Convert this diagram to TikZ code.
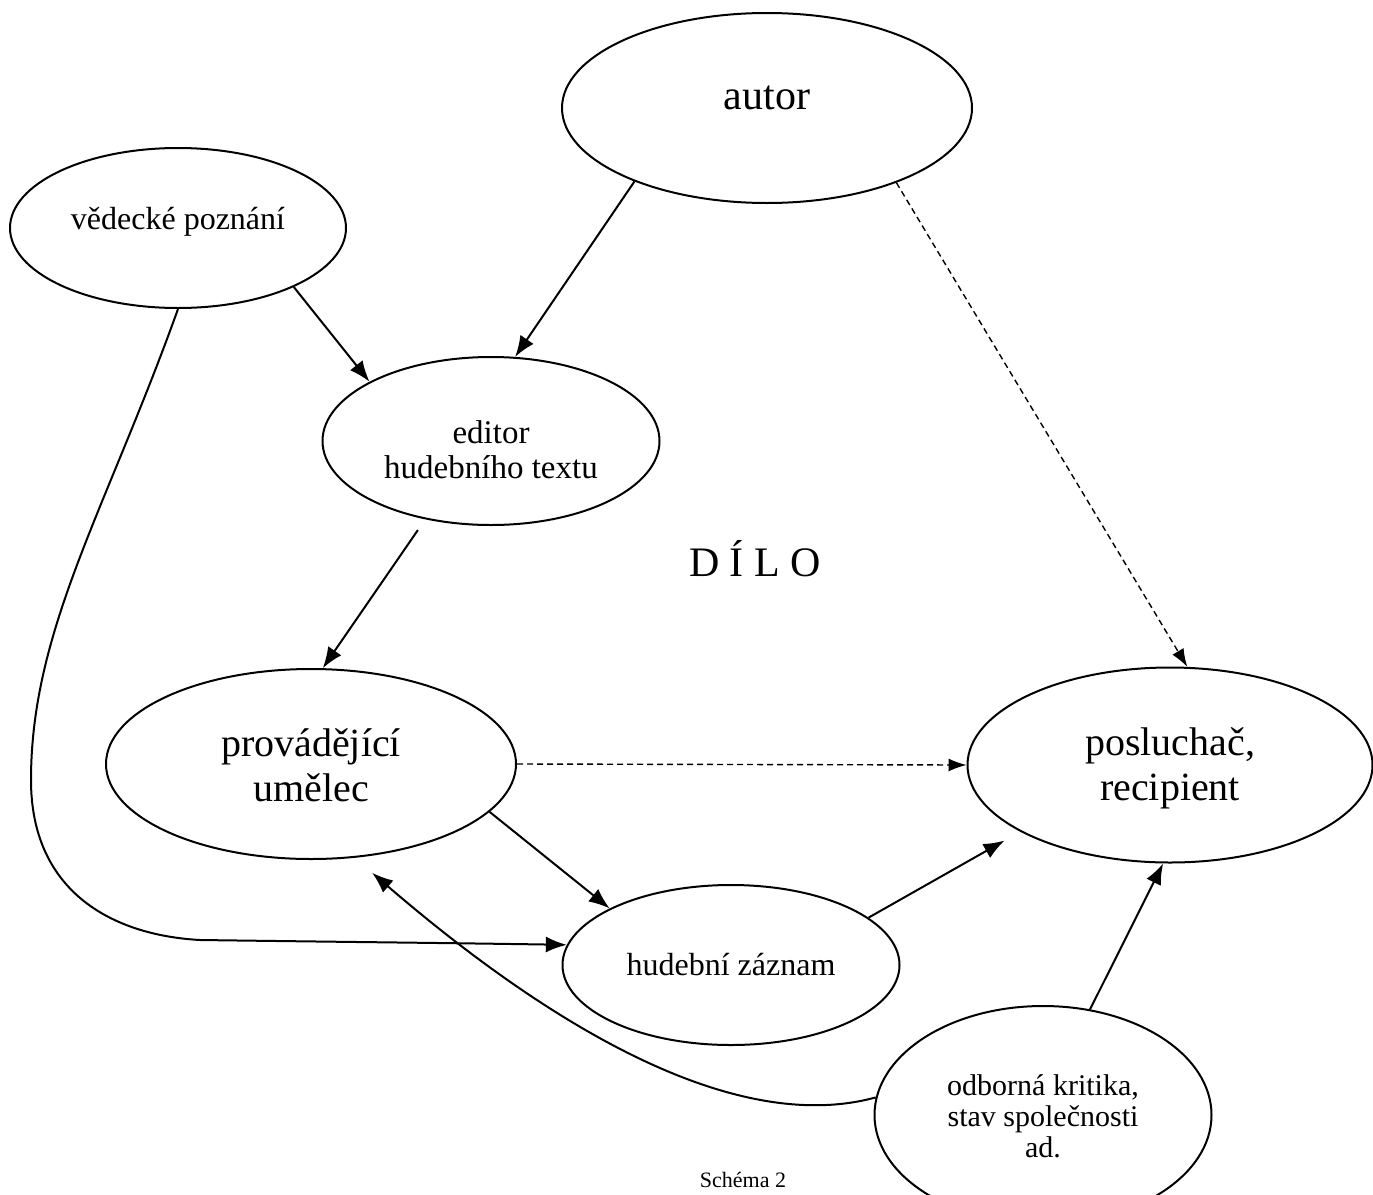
\documentclass[tikz,border=0pt]{standalone}
\usepackage{fontspec}
\setmainfont{Liberation Serif}
\usetikzlibrary{shapes.geometric,arrows.meta}
\begin{document}
\begin{tikzpicture}[x=1pt,y=-1pt,
  ell/.style={draw, ellipse, line width=2pt, inner sep=0pt},
  txt/.style={align=center, inner sep=0pt},
  arr/.style={line width=2pt, -{Latex[length=21pt,width=16pt]}},
  darr/.style={line width=1.4pt, dash pattern=on 6pt off 4pt, -{Latex[length=18pt,width=13pt]}}]
\useasboundingbox (0,0) rectangle (1373,1194);
\node[ell, minimum width=410pt, minimum height=190pt,
  label={[txt, font=\fontsize{42}{46}\selectfont, yshift=10pt]center:autor}] (autor) at (767,108) {};
\node[ell, minimum width=336pt, minimum height=160pt,
  label={[txt, font=\fontsize{32}{35}\selectfont, yshift=6pt]center:vědecké poznání}] (ved) at (178,228) {};
\node[ell, minimum width=337pt, minimum height=168pt,
  label={[txt, font=\fontsize{33}{35}\selectfont, yshift=-9pt]center:{editor\\hudebního textu}}] (editor) at (491,441) {};
\node[ell, minimum width=410pt, minimum height=190pt,
  label={[txt, font=\fontsize{40}{45}\selectfont, yshift=-1pt]center:{provádějící\\umělec}}] (prov) at (311,764) {};
\node[ell, minimum width=405pt, minimum height=195pt,
  label={[txt, font=\fontsize{40}{45}\selectfont, yshift=-3pt]center:{posluchač,\\recipient}}] (posl) at (1170,765) {};
\node[ell, minimum width=337pt, minimum height=160pt,
  label={[txt, font=\fontsize{32}{35}\selectfont]center:hudební záznam}] (hud) at (731,965) {};
\node[ell, minimum width=337pt, minimum height=218pt,
  label={[txt, font=\fontsize{30}{31}\selectfont, yshift=-1pt]center:{odborná kritika,\\stav společnosti\\ad.}}] (odb) at (1043,1115) {};
\node[font=\fontsize{42}{46}\selectfont] (dilo) at (755,559) {D Í L O};
\node[font=\fontsize{22}{24}\selectfont] (cap) at (743,1180) {Schéma 2};

\draw[arr] (autor.209) -- (editor.74);
\draw[arr] (ved.333) -- (editor.154);
\draw[darr] (autor.330) -- (posl.80);
\draw[arr, shorten <=13pt] (editor.230) -- (prov.83);
\draw[darr] (prov.0) -- (posl.180);
\draw[arr] (prov.345) -- (hud.155);
\draw[arr, shorten >=18pt] (hud.19) -- (posl.204);
\draw[arr] (odb.66) -- (posl.266);
\draw[arr] (ved.south) .. controls (106,510) and (31,630) .. (31,780)
  .. controls (31,890) and (110,935) .. (200,940)
  .. controls (350,942) and (450,943) .. (hud.173);
\draw[arr, shorten >=23pt] (odb.174) .. controls (720,1140) and (520,1000) .. (prov.295);
\end{tikzpicture}
\end{document}
